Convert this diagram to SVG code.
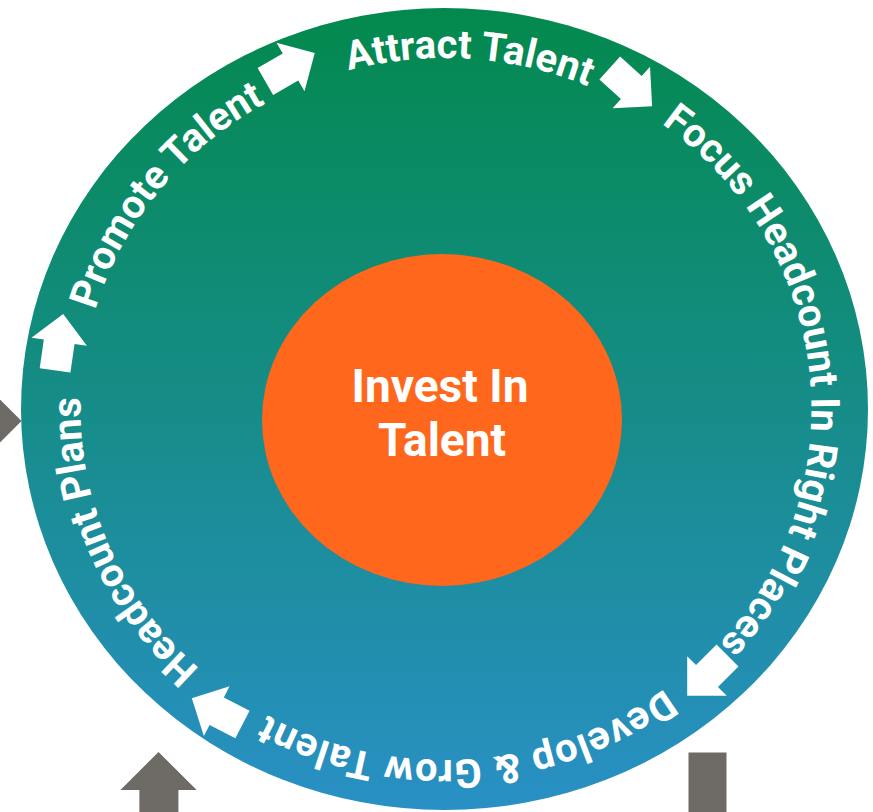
<svg xmlns="http://www.w3.org/2000/svg" xmlns:xlink="http://www.w3.org/1999/xlink" width="873" height="812" viewBox="0 0 873 812">
  <style>
    .ring-label { font-family: Roboto, "Liberation Sans", sans-serif; font-weight: 700; font-size: 40px; fill: #ffffff; }
    .hub-label { font-family: Roboto, "Liberation Sans", sans-serif; font-weight: 700; font-size: 46px; fill: #ffffff; text-anchor: middle; }
    .flow { fill: #ffffff; }
    .feed { fill: #6e6a65; }
  </style>
  <defs>
    <linearGradient id="ringFill" x1="0" y1="8" x2="0" y2="810" gradientUnits="userSpaceOnUse">
      <stop offset="0" stop-color="#03894d"/>
      <stop offset="1" stop-color="#2990c5"/>
    </linearGradient>
    <!-- block arrow pointing along +x, origin at the base of the head -->
    <path id="blockArrow" d="M-29,-15.5H0V-28L28,0L0,28V15.5H-29Z"/>
    <!-- baseline arcs, all running clockwise round the disc -->
    <path id="arcAttract" d="M210.5,140.1 A364,351 0 0 1 715,174.1"/>
    <path id="arcFocus" d="M508.2,60.4 A367,354 0 0 1 582,737.2"/>
    <path id="arcDevelop" d="M786.5,529 A364,351 0 0 1 123.1,573.8"/>
    <path id="arcPlans" d="M381.3,754.7 A364,351 0 0 1 146.3,207.7"/>
    <path id="arcPromote" d="M87.8,479 A364,351 0 0 1 428.6,58.3"/>
  </defs>

  <!-- outer cycle disc -->
  <g id="cycle">
    <ellipse cx="444.5" cy="409" rx="423.5" ry="401" fill="url(#ringFill)"/>
  </g>

  <!-- central hub -->
  <g id="hub">
    <ellipse cx="442" cy="420" rx="180" ry="166" fill="#fe671c"/>
    <text class="hub-label" x="440" y="401.5">Invest In</text>
    <text class="hub-label" x="442" y="455.5">Talent</text>
  </g>

  <!-- cycle stages -->
  <g id="stage-attract">
    <text class="ring-label"><textPath xlink:href="#arcAttract" href="#arcAttract" startOffset="50%" text-anchor="middle">Attract Talent</textPath></text>
  </g>
  <g id="stage-focus">
    <text class="ring-label"><textPath xlink:href="#arcFocus" href="#arcFocus" startOffset="50%" text-anchor="middle">Focus Headcount In Right Places</textPath></text>
  </g>
  <g id="stage-develop">
    <text class="ring-label" letter-spacing="0.8"><textPath xlink:href="#arcDevelop" href="#arcDevelop" startOffset="50%" text-anchor="middle">Develop &amp; Grow Talent</textPath></text>
  </g>
  <g id="stage-plans">
    <text class="ring-label"><textPath xlink:href="#arcPlans" href="#arcPlans" startOffset="50%" text-anchor="middle">Headcount Plans</textPath></text>
  </g>
  <g id="stage-promote">
    <text class="ring-label"><textPath xlink:href="#arcPromote" href="#arcPromote" startOffset="50%" text-anchor="middle">Promote Talent</textPath></text>
  </g>

  <!-- connectors -->
  <g id="connectors">
    <use class="flow" href="#blockArrow" xlink:href="#blockArrow" transform="translate(290.5,67) rotate(-30)"/>
    <use class="flow" href="#blockArrow" xlink:href="#blockArrow" transform="translate(631.3,87.5) rotate(42)"/>
    <use class="flow" href="#blockArrow" xlink:href="#blockArrow" transform="translate(707,676) rotate(135)"/>
    <use class="flow" href="#blockArrow" xlink:href="#blockArrow" transform="translate(216.7,711.2) rotate(207.3)"/>
    <use class="flow" href="#blockArrow" xlink:href="#blockArrow" transform="translate(59.2,341.7) rotate(-81.8)"/>
    <polygon class="feed" points="-30,369.5 21.5,421 -30,472.5"/>
    <polygon class="feed" points="158.5,752 196.7,790 178.4,790 178.4,830 139.4,830 139.4,790 120.4,790"/>
    <rect class="feed" x="688.5" y="752.5" width="38" height="80"/>
  </g>
</svg>
